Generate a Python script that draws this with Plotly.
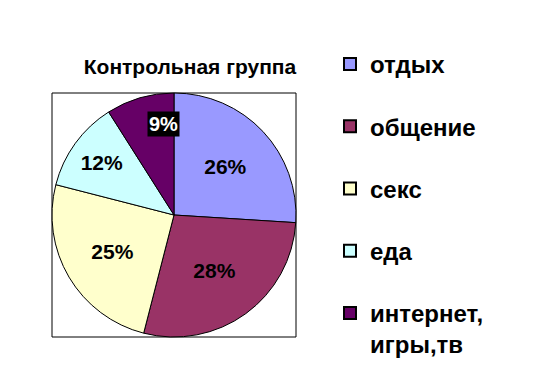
import math
import plotly.graph_objects as go

categories = ["отдых", "общение", "секс", "еда", "интернет,<br>игры,тв"]
values = [26, 28, 25, 12, 9]
colors = ["#9999FF", "#993366", "#FFFFCC", "#CCFFFF", "#660066"]
title_text = "Контрольная группа"

W, H = 550, 367
FONT = "Liberation Sans, Arial, sans-serif"

# pie box in pixels
BX0, BX1, BY0, BY1 = 52, 296, 93, 337

total = sum(values)
# last slice is labelled with a boxed (black background) label, as in the reference
templates = ["<b>%{percent:.0%}</b>"] * (len(values) - 1) + [""]

fig = go.Figure()
fig.add_trace(go.Pie(
    labels=categories,
    values=values,
    sort=False,
    direction="clockwise",
    rotation=0,
    marker=dict(colors=colors, line=dict(color="black", width=1)),
    texttemplate=templates,
    textposition="inside",
    insidetextorientation="horizontal",
    insidetextfont=dict(color="black", size=21, family=FONT),
    domain=dict(x=[BX0 / W, BX1 / W], y=[1 - BY1 / H, 1 - BY0 / H]),
    showlegend=False,
    hoverinfo="label+percent",
))

# boxed label for the last slice, placed at its mid-angle
cum_before = sum(values[:-1])
mid_frac = (cum_before + values[-1] / 2) / total
ang = 2 * math.pi * mid_frac
cx_px, cy_px = (BX0 + BX1) / 2, (BY0 + BY1) / 2
r_px = (BX1 - BX0) / 2
lab_r = 0.78 * r_px
lx = cx_px + lab_r * math.sin(ang)
ly = cy_px - lab_r * math.cos(ang)
fig.add_annotation(
    x=lx / W, y=1 - ly / H, xref="paper", yref="paper",
    text="<b>%d%%</b>" % round(100 * values[-1] / total),
    showarrow=False, bgcolor="black", borderpad=1,
    font=dict(color="white", size=20, family=FONT),
)

for i, (cat, col) in enumerate(zip(categories, colors)):
    fig.add_trace(go.Scatter(
        x=[None], y=[None], mode="markers",
        marker=dict(symbol="square", size=14, color=col, line=dict(color="black", width=1)),
        name="<b>" + cat + "</b>",
        legendgroup="g%d" % i,
        showlegend=True,
    ))

fig.add_shape(type="rect", xref="paper", yref="paper",
              x0=BX0 / W, x1=BX1 / W, y0=1 - BY1 / H, y1=1 - BY0 / H,
              line=dict(color="black", width=1), layer="below")

fig.update_layout(
    width=W, height=H,
    margin=dict(l=0, r=0, t=0, b=0),
    paper_bgcolor="white", plot_bgcolor="white",
    font=dict(family=FONT, color="black"),
    title=dict(text="<b>" + title_text + "</b>", x=190 / W, xanchor="center",
               y=1 - 67 / H, yanchor="middle", font=dict(size=21, family=FONT, color="black")),
    xaxis=dict(visible=False), yaxis=dict(visible=False),
    legend=dict(x=330 / W, xanchor="left", y=1 - 57 / H, yanchor="top",
                font=dict(size=24, family=FONT, color="black"),
                tracegroupgap=28, traceorder="grouped", itemsizing="constant",
                valign="top", bgcolor="rgba(0,0,0,0)", borderwidth=0),
)

fig.write_html("out.html")
